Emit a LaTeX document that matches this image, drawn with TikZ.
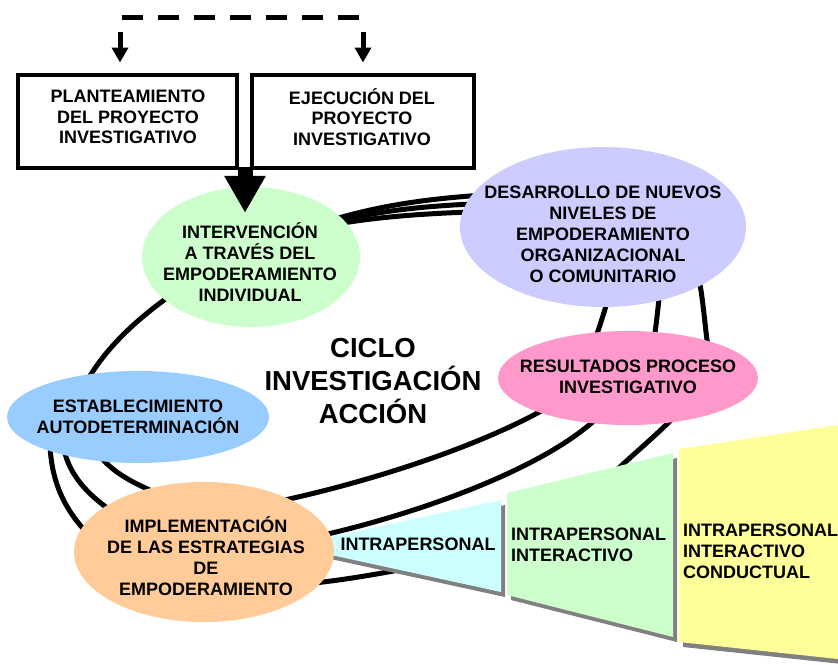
\documentclass[tikz,border=0pt]{standalone}
\usepackage{fontspec}
\setmainfont{Liberation Sans}
\usetikzlibrary{shapes.geometric,arrows.meta,calc}
\definecolor{cgreen}{HTML}{CCFFCC}
\definecolor{cpurple}{HTML}{CCCCFF}
\definecolor{cpink}{HTML}{FF99CC}
\definecolor{cblue}{HTML}{99CCFF}
\definecolor{corange}{HTML}{FFCC99}
\definecolor{ccyan}{HTML}{CCFFFF}
\definecolor{cyel}{HTML}{FFFF99}
\definecolor{cshadow}{HTML}{808080}
\begin{document}
\begin{tikzpicture}[x=1pt,y=-1pt,
  ring/.style={line width=5pt},
  blob/.style={ellipse, inner sep=0pt, draw=none},
  lbl/.style={font=\fontsize{18}{21}\selectfont\bfseries, align=center, inner sep=0pt},
  boxlbl/.style={font=\fontsize{18}{20.7}\selectfont\bfseries, align=center, inner sep=0pt},
  biglbl/.style={font=\fontsize{27.5}{33}\selectfont\bfseries, align=center, inner sep=0pt},
  boxnode/.style={draw, line width=4pt, fill=white, minimum width=219pt, minimum height=93pt,
    inner sep=0pt},
  smallarrow/.style={line width=5pt, -{Triangle[width=16pt,length=15pt]}},
  bigarrow/.style={line width=15pt, -{Triangle[width=39pt,length=37pt]}},
  shade/.style={fill=cshadow}
]
\useasboundingbox (0,0) rectangle (838,664);

% ---- cycle rings (behind everything) ----
\draw[ring] (325,222) .. controls (380,205) and (430,198) .. (500,194);
\draw[ring] (325,224) .. controls (380,210) and (430,205) .. (500,203);
\draw[ring] (325,226) .. controls (380,216) and (430,213) .. (500,211);
\draw[ring] (190,282) .. controls (140,315) and (100,350) .. (78,398);
\draw[ring] (90,425) .. controls (90,460) and (120,480) .. (175,500);
\draw[ring] (62,430) .. controls (62,470) and (85,495) .. (125,520);
\draw[ring] (50,430) .. controls (48,480) and (65,515) .. (100,545);
\draw[ring] (260,505) .. controls (340,490) and (480,450) .. (560,400);
\draw[ring] (300,540) .. controls (400,520) and (550,470) .. (605,410);
\draw[ring] (290,585) .. controls (340,582) and (400,570) .. (450,560);
\draw[ring] plot[smooth] coordinates {(600,488) (620,467) (668,423) (712,375) (707,340) (700,285) (690,262)};
\draw[ring] (660,285) .. controls (659,300) and (657,320) .. (652,355);
\draw[ring] (610,290) .. controls (607,305) and (600,325) .. (590,355);

% ---- funnel ----
\fill[shade] (294,551) -- (505,505) -- (505,597) -- cycle;
\fill[ccyan] (290,546) -- (501,500) -- (501,592) -- cycle;
\fill[shade] (511,498) -- (677,458) -- (677,642) -- (511,600) -- cycle;
\fill[cgreen] (507,493) -- (673,453) -- (673,637) -- (507,595) -- cycle;
\fill[shade] (683,454) -- (842,430) -- (842,664) -- (683,647) -- cycle;
\fill[cyel] (679,449) -- (838,425) -- (838,659) -- (679,642) -- cycle;

% ---- ellipses ----
\node[blob, fill=cgreen, minimum width=218pt, minimum height=140pt] (green) at (251,257) {};
\node[blob, fill=cpurple, minimum width=286pt, minimum height=160pt] (purple) at (603,227) {};
\node[blob, fill=cpink, minimum width=260pt, minimum height=94pt] (pink) at (628,378) {};
\node[blob, fill=cblue, minimum width=262pt, minimum height=92pt] (blue) at (138,417) {};
\node[blob, fill=corange, minimum width=260pt, minimum height=140pt] (orange) at (204,552) {};

% ---- texts ----
\node[lbl] (greenT) at (250,262) {INTERVENCIÓN\\A TRAVÉS DEL\\EMPODERAMIENTO\\INDIVIDUAL};
\node[lbl] (purpleT) at (603,234) {DESARROLLO DE NUEVOS\\NIVELES DE\\EMPODERAMIENTO\\ORGANIZACIONAL\\O COMUNITARIO};
\node[lbl] (pinkT) at (628,377) {RESULTADOS PROCESO\\INVESTIGATIVO};
\node[lbl] (blueT) at (138,417) {ESTABLECIMIENTO\\AUTODETERMINACIÓN};
\node[lbl] (orangeT) at (206,556) {IMPLEMENTACIÓN\\DE LAS ESTRATEGIAS\\DE\\EMPODERAMIENTO};
\node[biglbl] (ciclo) at (373,381) {CICLO\\INVESTIGACIÓN\\ACCIÓN};
\node[lbl] (f1) at (418,544) {INTRAPERSONAL};
\node[lbl, align=left, anchor=west] (f2) at (511,545) {INTRAPERSONAL\\INTERACTIVO};
\node[lbl, align=left, anchor=west] (f3) at (683,551) {INTRAPERSONAL\\INTERACTIVO\\CONDUCTUAL};

% ---- boxes ----
\node[boxnode] (box1) at (127.5,121) {};
\node[boxnode, minimum width=222pt] (box2) at (363,121) {};
\node[boxlbl] (box1T) at (128,117) {PLANTEAMIENTO\\DEL PROYECTO\\INVESTIGATIVO};
\node[boxlbl] (box2T) at (362,117) {EJECUCIÓN DEL\\PROYECTO\\INVESTIGATIVO};

% ---- arrows ----
\coordinate (dL) at (122,17);
\coordinate (dR) at (361,17);
\draw[line width=5pt, dash pattern=on 21pt off 15pt] (dL) -- (dR);
\coordinate (aL) at (120,32);
\coordinate (aR) at (363,32);
\draw[smallarrow, shorten >=10pt] (aL) -- (aL |- box1.north);
\draw[smallarrow, shorten >=10pt] (aR) -- (aR |- box2.north);
\coordinate (bigS) at (245,167);
\draw[bigarrow] (bigS) -- ($(green.north)+(-6,26)$);
\end{tikzpicture}
\end{document}
